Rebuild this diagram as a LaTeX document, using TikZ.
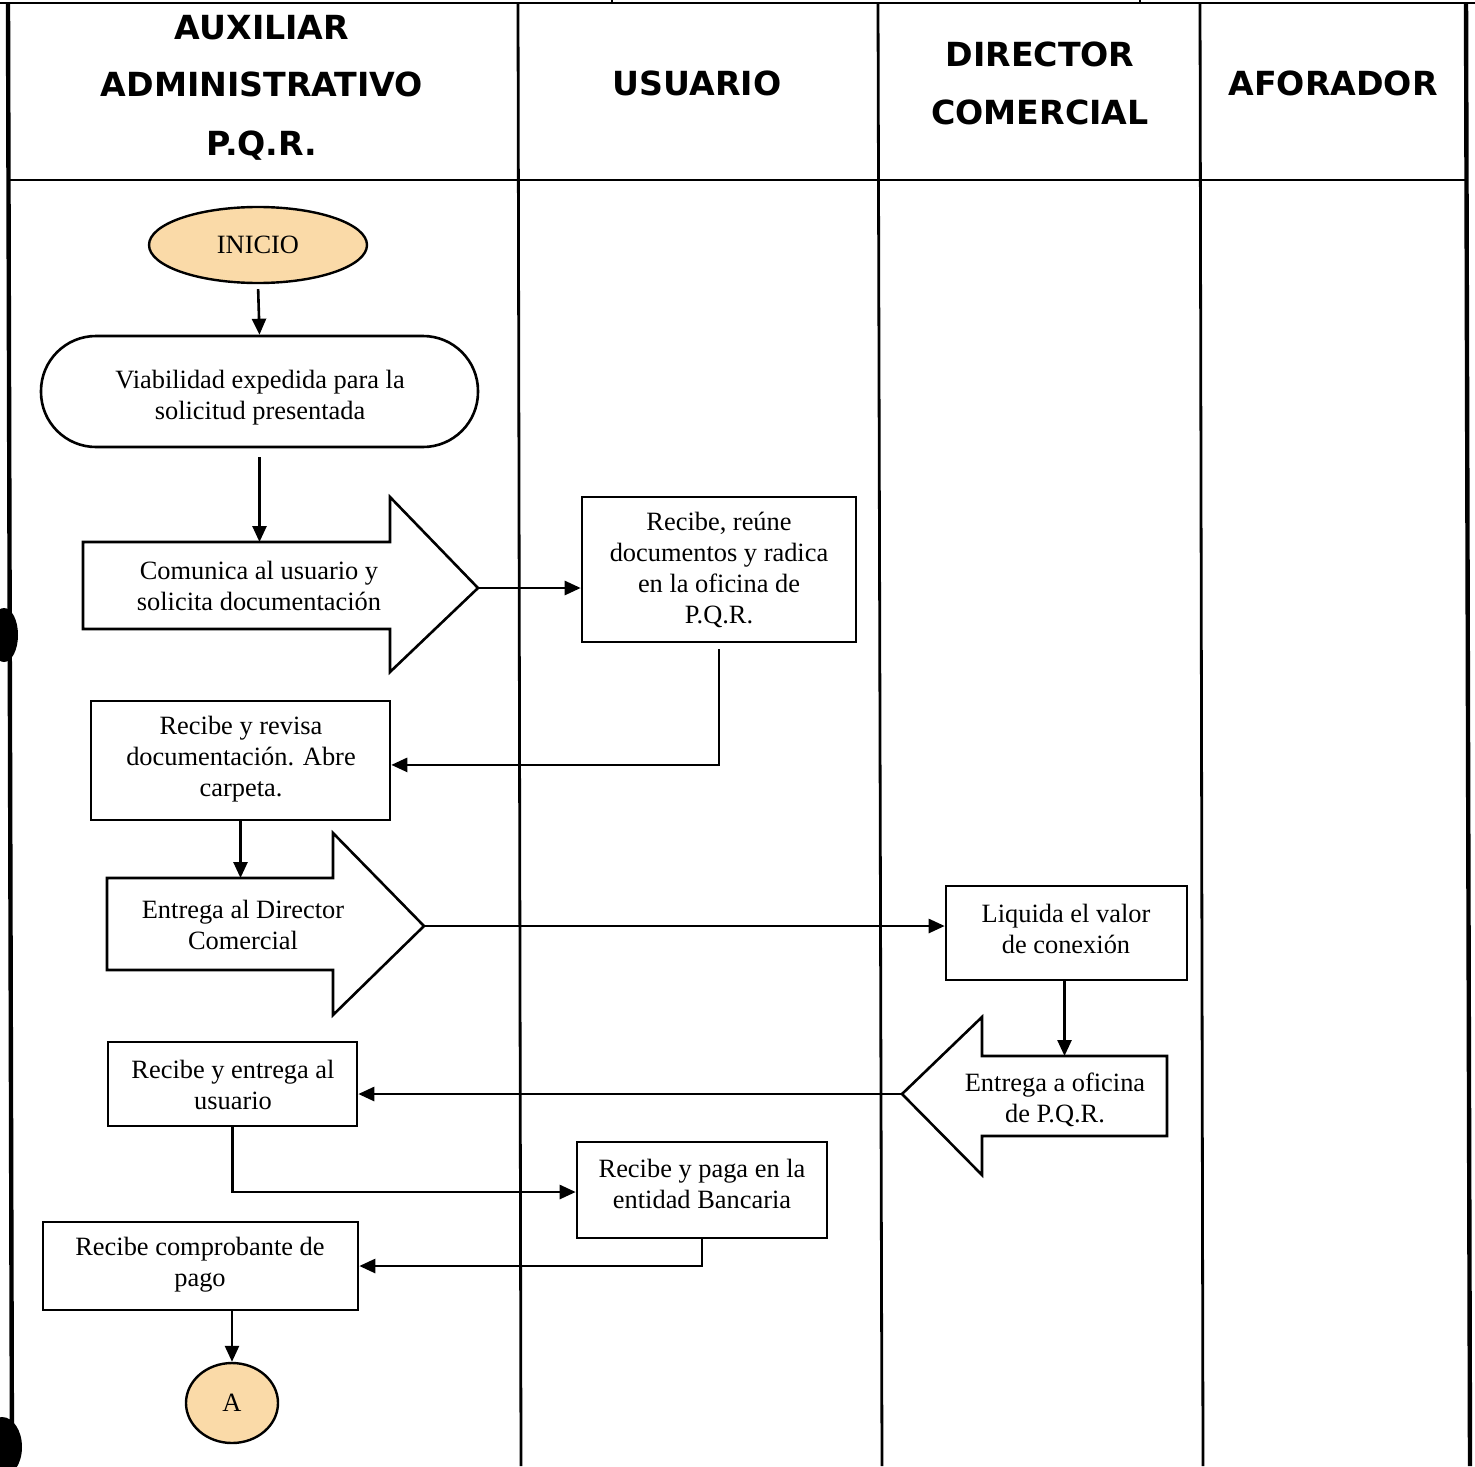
\documentclass[tikz,border=0pt]{standalone}
\usepackage{fontspec}
\setmainfont{Liberation Serif}
\newfontfamily\hdrfont{DejaVu Sans}
\usetikzlibrary{arrows.meta,fit,shapes.geometric}
\definecolor{startfill}{RGB}{250,218,168}
\newcommand{\bodyfont}{\fontsize{13.2}{15.4}\selectfont}
\begin{document}
\begin{tikzpicture}[x=0.5pt,y=-0.5pt,
  frame/.style={line width=1.4pt},
  outer/.style={line width=2.2pt},
  hdr/.style={anchor=base, inner sep=0pt, font={\hdrfont\fontsize{16.6}{20}\bfseries}},
  box/.style={draw, line width=1.3pt, inner sep=0pt},
  term/.style={draw, ellipse, fill=startfill, line width=1.2pt, inner sep=0pt, font=\bodyfont},
  bigarrow/.style={draw, line width=1.3pt, line join=miter},
  label/.style={inner sep=0pt, align=center, font=\bodyfont},
  arr/.style={line width=1.3pt, -{Triangle[length=8pt,width=7pt]}}
]
\useasboundingbox (0,0) rectangle (1475,1466);

% swimlane grid
\draw[frame] (0,3) -- (1475,3);
\draw[frame] (612,0) -- (612,3);
\draw[frame] (1140,0) -- (1140,3);
\draw[outer] (8,3) -- (12,1466);
\draw[outer] (1466,3) -- (1470,1466);
\draw[frame] (518,3) -- (521,1466);
\draw[frame] (878,3) -- (882,1466);
\draw[frame] (1200,3) -- (1203,1466);
\draw[frame] (9,180) -- (1467,180);

% binder holes
\fill (4,635) ellipse [x radius=7pt, y radius=13.5pt];
\fill (2,1447) ellipse [x radius=10pt, y radius=15pt];

% lane titles
\node[hdr] (h1a) at (262,40) {AUXILIAR};
\node[hdr] (h1b) at (262,97) {ADMINISTRATIVO};
\node[hdr] (h1c) at (262,156) {P.Q.R.};
\node[hdr] (h2) at (697,96) {USUARIO};
\node[hdr] (h3a) at (1040,67) {DIRECTOR};
\node[hdr] (h3b) at (1040,125) {COMERCIAL};
\node[hdr] (h4) at (1333,96) {AFORADOR};

% process steps
\node[term, minimum width=109pt, minimum height=38pt] (inicio) at (258,245) {INICIO};

\node[box, rounded corners=27.5pt, fit={(41,336) (478,447)}] (viab) {};
\node[label] (viabT) at (260,398) {Viabilidad expedida para la\\solicitud presentada};

\coordinate (comNW) at (83,542);
\coordinate (comtip) at (478,588);
\draw[bigarrow] (comNW) -- (390,542) -- (390,497) -- (comtip) -- (390,672)
  -- (390,629) -- (83,629) -- cycle;
\node[label] (comunica) at (259,586) {Comunica al usuario y\\solicita documentación};

\node[box, fit={(582,497) (856,642)}] (reune) {};
\node[label] (reuneT) at (719,570) {Recibe, reúne\\documentos y radica\\en la oficina de\\P.Q.R.};

\node[box, fit={(91,701) (390,820)}] (revisa) {};
\node[label] (revisaT) at (241,759) {Recibe y revisa\\documentación. Abre\\carpeta.};

\coordinate (entNW) at (107,878);
\coordinate (enttip) at (424,926);
\draw[bigarrow] (entNW) -- (333,878) -- (333,833) -- (enttip) -- (333,1015)
  -- (333,970) -- (107,970) -- cycle;
\node[label] (entrega) at (243,925) {Entrega al Director\\Comercial};

\node[box, fit={(946,886) (1187,980)}] (liquida) {};
\node[label] (liquidaT) at (1066,929) {Liquida el valor\\de conexión};

\coordinate (ofiNE) at (1167,1056);
\coordinate (ofitip) at (902,1094);
\draw[bigarrow] (ofiNE) -- (982,1056) -- (982,1017) -- (ofitip) -- (982,1175)
  -- (982,1136) -- (1167,1136) -- cycle;
\node[label] (oficina) at (1055,1100) {Entrega a oficina\\de P.Q.R.};

\node[box, fit={(108,1042) (357,1126)}] (entusu) {};
\node[label] (entusuT) at (233,1085) {Recibe y entrega al\\usuario};

\node[box, fit={(577,1142) (827,1238)}] (paga) {};
\node[label] (pagaT) at (702,1184) {Recibe y paga en la\\entidad Bancaria};

\node[box, fit={(43,1222) (358,1310)}] (comprob) {};
\node[label] (comprobT) at (200,1265) {Recibe comprobante de\\pago};

\node[term, minimum width=46pt, minimum height=40pt] (conA) at (232,1403) {A};

% connectors
\draw[arr, shorten <=2.5pt] (inicio.south) -- (viab.north);
\draw[arr, shorten <=4.5pt] (viab.south) -- (viab.south |- comNW);
\draw[arr] (comtip) -- (comtip -| reune.west);
\draw[arr, shorten <=3pt] (reune.south) |- ([yshift=-2.2pt]revisa.east);
\draw[arr] (revisa.south) -- (revisa.south |- entNW);
\draw[arr] (enttip) -- (enttip -| liquida.west);
\draw[arr] ([xshift=-1pt]liquida.south) -- ([xshift=-1pt]liquida.south |- ofiNE);
\draw[arr] (ofitip) -- (ofitip -| entusu.east);
\draw[arr] (entusu.south) |- ([yshift=-1pt]paga.west);
\draw[arr] (paga.south) |- (comprob.east);
\draw[arr] (conA.north |- comprob.south) -- (conA.north);
\end{tikzpicture}
\end{document}
